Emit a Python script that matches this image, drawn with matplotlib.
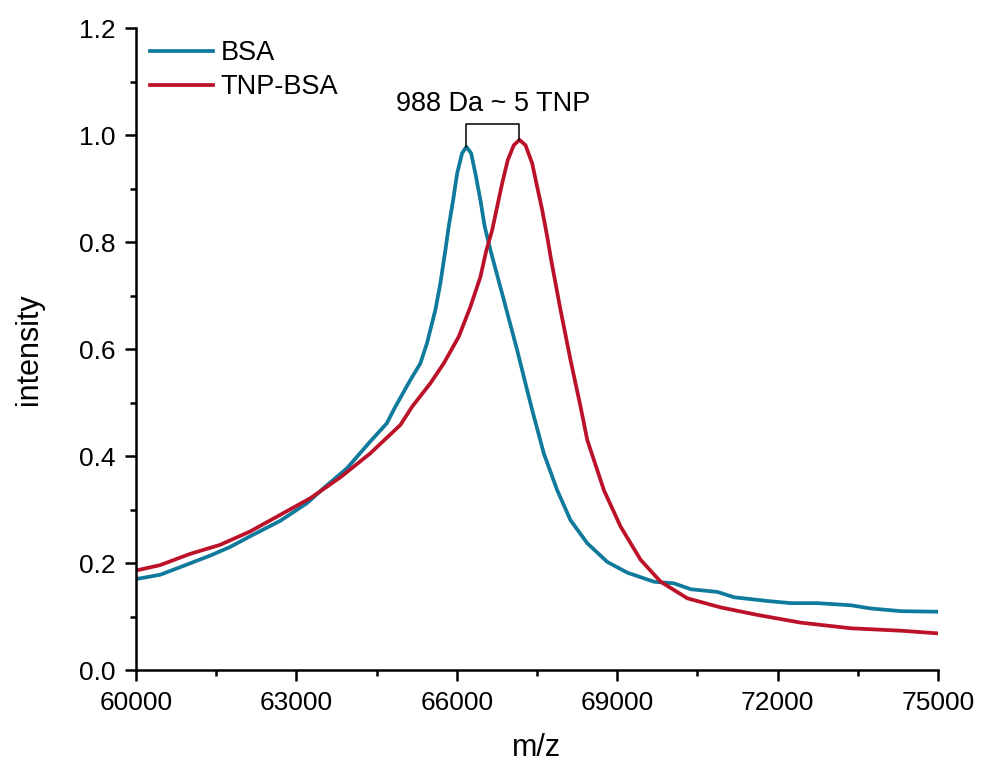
"""Mass spectra of BSA vs TNP-BSA (MALDI), m/z 60000-75000."""

import matplotlib
matplotlib.use("Agg")
import matplotlib.pyplot as plt
from matplotlib.ticker import MultipleLocator, FormatStrFormatter
import numpy as np

plt.rcParams["font.family"] = ["Liberation Sans", "DejaVu Sans"]

# values
bsa_mz = [60000, 60450, 60820, 61390, 61760, 62135, 62700, 63200, 63510, 63945,
          64380, 64690, 64850, 65131, 65318, 65443, 65599, 65693, 65787, 65849,
          65931, 66006, 66099, 66180, 66268, 66348, 66442, 66522, 66629, 66879,
          67129, 67316, 67410, 67627, 67878, 68127, 68440, 68815, 69189, 69688,
          70063, 70375, 70874, 71186, 71811, 72247, 72747, 73371, 73746, 74307,
          75000]
bsa_int = [0.170, 0.178, 0.192, 0.214, 0.230, 0.250, 0.279, 0.312, 0.340, 0.377,
           0.427, 0.461, 0.492, 0.542, 0.573, 0.611, 0.673, 0.723, 0.785, 0.829,
           0.878, 0.928, 0.966, 0.978, 0.966, 0.928, 0.878, 0.829, 0.785, 0.692,
           0.598, 0.523, 0.486, 0.405, 0.336, 0.280, 0.237, 0.202, 0.182, 0.165,
           0.162, 0.151, 0.146, 0.136, 0.129, 0.125, 0.125, 0.121, 0.115, 0.110,
           0.109]

tnp_mz = [60000, 60449, 61011, 61573, 62135, 62697, 63259, 63820, 64382, 64944,
          65163, 65506, 65755, 66036, 66255, 66442, 66554, 66661, 66755, 66849,
          66953, 67066, 67172, 67285, 67410, 67504, 67597, 67691, 67766, 67940,
          68128, 68315, 68440, 68752, 69064, 69438, 69813, 70313, 70937, 71623,
          72435, 73371, 74307, 75000]
tnp_int = [0.186, 0.196, 0.217, 0.234, 0.259, 0.290, 0.321, 0.360, 0.405, 0.458,
           0.492, 0.536, 0.573, 0.623, 0.679, 0.735, 0.785, 0.822, 0.866, 0.910,
           0.953, 0.981, 0.991, 0.981, 0.947, 0.903, 0.860, 0.810, 0.766, 0.673,
           0.579, 0.492, 0.430, 0.336, 0.268, 0.206, 0.165, 0.134, 0.117, 0.103,
           0.0885, 0.078, 0.0735, 0.0685]

BSA_COLOR = "#0F7A9C"
TNP_COLOR = "#BB1229"

fig = plt.figure(figsize=(9.81, 7.66), dpi=100)
ax = fig.add_axes([0.1386, 0.1253, 0.8176, 0.8381])

ax.plot(bsa_mz, bsa_int, color=BSA_COLOR, lw=2.7, label="BSA", solid_joinstyle="round")
ax.plot(tnp_mz, tnp_int, color=TNP_COLOR, lw=2.7, label="TNP-BSA", solid_joinstyle="round")

# bracket between the two peak maxima
i1, i2 = int(np.argmax(bsa_int)), int(np.argmax(tnp_int))
x1, x2 = bsa_mz[i1], tnp_mz[i2]
top = 1.02
ax.plot([x1, x1, x2, x2], [bsa_int[i1], top, top, tnp_int[i2]], color="black", lw=1.1)
ax.text((x1 + x2) / 2, 1.058, "988 Da ~ 5 TNP", ha="center", va="center", fontsize=19.5)

ax.set_xlim(60000, 75000)
ax.set_ylim(0, 1.2)
ax.xaxis.set_major_locator(MultipleLocator(3000))
ax.xaxis.set_minor_locator(MultipleLocator(1500))
ax.yaxis.set_major_locator(MultipleLocator(0.2))
ax.yaxis.set_minor_locator(MultipleLocator(0.1))
ax.yaxis.set_major_formatter(FormatStrFormatter("%.1f"))

for side in ("top", "right"):
    ax.spines[side].set_visible(False)
for side in ("left", "bottom"):
    ax.spines[side].set_linewidth(1.8)
ax.tick_params(which="major", direction="out", length=8, width=1.8, labelsize=19, pad=7)
ax.tick_params(which="minor", direction="out", length=4, width=1.8)

ax.set_xlabel("m/z", fontsize=22, labelpad=13)
ax.set_ylabel("intensity", fontsize=22, labelpad=25)

ax.legend(loc="upper left", bbox_to_anchor=(0.018, 0.981), frameon=False, fontsize=19.5,
          handlelength=2.3, handletextpad=0.3, labelspacing=0.3,
          borderaxespad=0, borderpad=0)

fig.savefig("out.png", dpi=100)
plt.close(fig)
